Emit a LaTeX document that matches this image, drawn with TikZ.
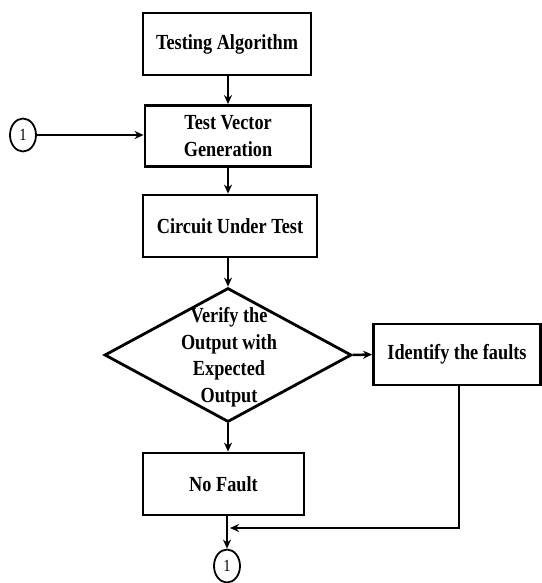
\documentclass[tikz,border=0pt]{standalone}
\usepackage{fontspec}
\setmainfont{Liberation Serif}[FakeStretch=0.85]
\usetikzlibrary{shapes.geometric,arrows.meta,calc}
\begin{document}
\begin{tikzpicture}[x=1pt,y=-1pt,
  every node/.style={font=\bfseries\fontsize{21.5}{26.5}\selectfont, inner sep=0pt, align=center},
  procbox/.style={draw, line width=2.8pt, rectangle},
  decbox/.style={draw, line width=2.8pt, diamond, aspect=1.84},
  conn/.style={draw, line width=2.5pt},
  flow/.style={conn, -{Stealth[length=9pt,width=8pt]}},
  linkmark/.style={draw, line width=1.8pt, ellipse, minimum width=26pt, minimum height=33pt, font=\fontsize{17}{18}\selectfont}
]
\useasboundingbox (0,0) rectangle (541,583);

% main column
\node[procbox, minimum width=168pt, minimum height=62pt] (ta) at (227,44) {Testing Algorithm};
\node[procbox, minimum width=166pt, minimum height=61pt] (tvg) at (228,136) {Test Vector\\Generation};
\node[procbox, minimum width=174pt, minimum height=62pt] (cut) at (230,226) {Circuit Under Test};
\node[decbox, minimum width=247pt, minimum height=134pt] (ver) at (228,355) {};
\node at (229,357) {Verify the\\Output with\\Expected\\Output};
\node[procbox, minimum width=167pt, minimum height=61pt] (idf) at (457,354.5) {Identify the faults};
\node[procbox, minimum width=161pt, minimum height=62pt] (nf) at (223.5,484) {No Fault};

% connectors
\node[linkmark] (c1) at (23,135) {1};
\node[linkmark] (c2) at (227,566) {1};
\coordinate (col) at (228,0);
\coordinate (ret) at (459,0);
\coordinate (join) at (230,528);

\draw[flow] (ta.south -| col) -- (tvg.north -| col);
\draw[flow] (tvg.south -| col) -- (cut.north -| col);
\draw[flow] (cut.south -| col) -- (ver.north);
\draw[flow] (ver.south) -- (nf.north -| ver.south);
\draw[flow] (ver.east) -- (idf.west);
\draw[flow] (c1.east) -- (tvg.west |- c1.east);
\draw[flow] (nf.south -| c2.north) -- (c2.north);
\draw[flow] (idf.south -| ret) |- (join);
\end{tikzpicture}
\end{document}
